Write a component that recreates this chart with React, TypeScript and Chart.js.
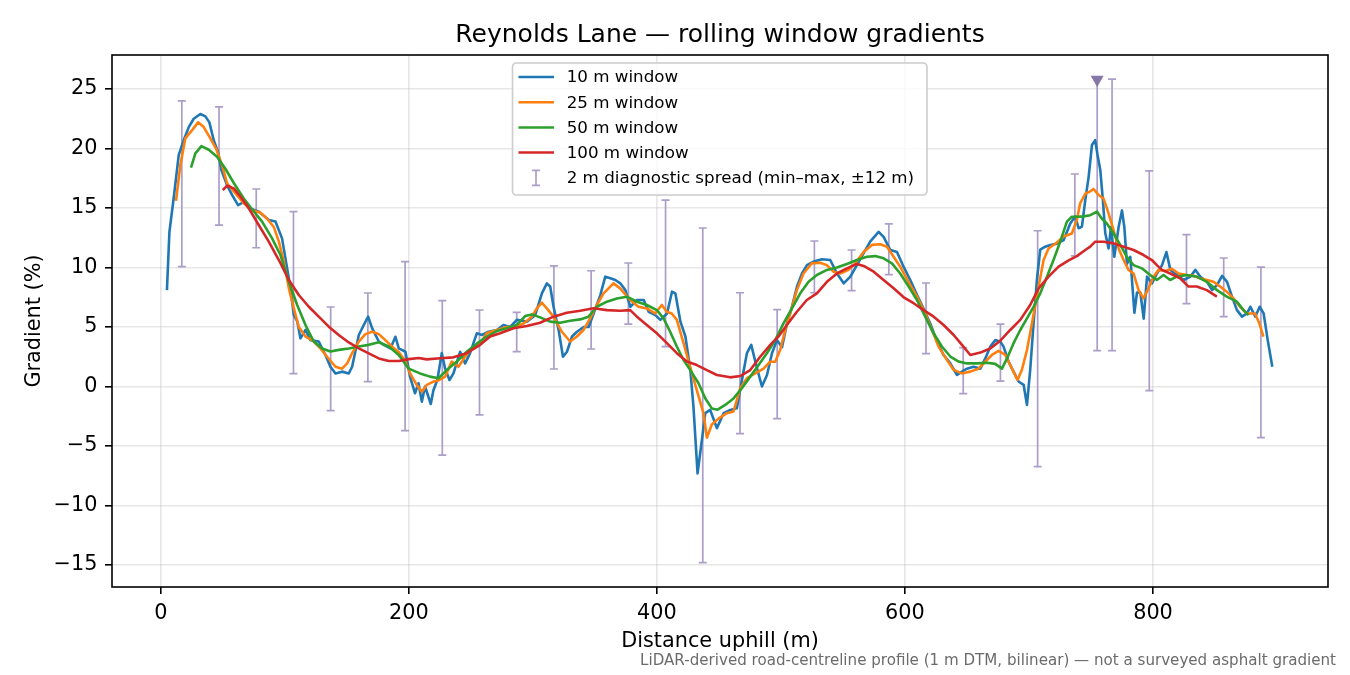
import { useEffect, useRef } from 'react'
import { Chart, registerables } from 'chart.js'

Chart.register(...registerables)

const FONT = "'DejaVu Sans', 'Liberation Sans', sans-serif"

// 10 m window (metres / %)
const blueX = [5, 7, 10.4, 14.5, 18.5, 22.6, 26.6, 31.9, 36, 39.2, 42.7, 46.2, 48.9, 53.5, 57.5, 62.3, 66.9, 72.3, 79, 87.1, 92.5, 97.8, 101.9, 104.6, 107.3, 110, 112.6, 116.7, 120.7, 127.4, 132.8, 136.8, 140.9, 146.2, 151.6, 154.3, 159.7, 163.7, 167.2, 170.4, 175.8, 179.8, 185.2, 189.2, 191.9, 197.3, 201, 205, 207.8, 210.5, 213.1, 217.7, 219.9, 223, 226.6, 229.3, 232.8, 236, 241.4, 245.4, 249.4, 254.8, 258.9, 264.3, 271, 276.3, 281.7, 287.1, 295.2, 301.9, 307.3, 311.3, 314, 316.7, 320.8, 324.3, 327.5, 331.6, 335.6, 341, 345, 349, 354.4, 358.4, 362.5, 366.5, 370.5, 374.6, 378.6, 384, 389.4, 393.4, 398.8, 402.8, 408.2, 412.2, 414.9, 419, 423, 427, 429.5, 432.8, 436.3, 439, 443, 448.4, 453.8, 459.2, 464.5, 468.6, 472.6, 476.1, 479.4, 484.7, 488.8, 492.8, 496.8, 500.9, 504.9, 508.9, 513, 517, 521, 526.4, 533.1, 539.8, 545.2, 550.6, 556, 561.3, 566.7, 572.1, 578.8, 582.8, 588.2, 593.6, 598.9, 604.3, 609.7, 615, 620.4, 625.8, 631.2, 636.6, 641.9, 646, 650, 655.4, 660.8, 664.8, 668.8, 672.9, 676.9, 679.5, 683.6, 687.6, 691.6, 695.7, 698.4, 701, 703.7, 706.4, 709.1, 713.1, 717.2, 722.5, 727.9, 733.3, 737.3, 740, 742.7, 745.4, 748.1, 750.8, 753.4, 755.3, 757.5, 759.6, 761.5, 764.2, 766.1, 768.8, 772.3, 775, 776.9, 779, 781.7, 785, 787.1, 789.8, 792.5, 795.2, 799.2, 803.2, 807.3, 810.8, 814, 819.4, 824.8, 830.1, 834.2, 838.2, 843.6, 847.6, 851.6, 855.7, 859.7, 863.7, 867.7, 871.8, 875.8, 878.5, 882.5, 886, 889.2, 892.5, 896.2]
const blueY = [8.1, 13.0, 15.8, 19.45, 20.7, 21.8, 22.5, 22.9, 22.7, 22.2, 20.7, 19.7, 18.2, 16.9, 16.1, 15.25, 15.5, 14.97, 14.7, 14.0, 13.86, 12.45, 9.93, 8.25, 6.0, 5.5, 4.05, 4.75, 3.9, 3.78, 2.65, 1.66, 1.1, 1.25, 1.1, 1.66, 4.33, 5.17, 5.87, 4.9, 3.78, 3.5, 3.2, 4.18, 3.2, 2.92, 0.82, -0.57, 0.27, -1.27, 0.0, -1.47, -0.3, 0.55, 2.8, 1.5, 0.55, 1.1, 2.92, 1.94, 2.8, 4.47, 4.33, 4.6, 4.75, 5.17, 5.0, 5.6, 5.45, 6.0, 7.83, 8.67, 8.4, 6.7, 4.75, 2.5, 2.92, 4.2, 4.6, 5.0, 5.0, 6.14, 7.68, 9.23, 9.09, 8.95, 8.67, 8.1, 6.7, 7.27, 7.27, 6.28, 6.0, 5.6, 6.14, 7.97, 7.83, 5.45, 4.2, 1.37, -1.7, -7.3, -4.5, -2.24, -1.97, -3.5, -2.24, -1.97, -1.83, 0.55, 2.8, 3.5, 2.08, 0.0, 0.97, 2.8, 3.9, 3.3, 5.3, 6.7, 8.4, 9.5, 10.2, 10.5, 10.7, 10.63, 9.5, 8.67, 9.23, 10.2, 11.2, 12.2, 13.0, 12.58, 11.47, 11.3, 10.07, 8.95, 7.7, 6.56, 5.3, 3.8, 2.65, 1.95, 0.97, 1.25, 1.5, 1.66, 1.5, 2.36, 3.35, 3.9, 3.77, 3.35, 2.08, 1.25, 0.42, 0.14, -1.55, 1.4, 5.3, 8.95, 11.5, 11.75, 11.9, 12.0, 12.3, 13.7, 14.3, 13.3, 13.44, 15.67, 17.6, 20.3, 20.7, 19.45, 18.2, 15.67, 12.9, 11.6, 13.4, 10.9, 13.4, 14.8, 13.4, 10.3, 10.9, 6.2, 7.9, 7.9, 5.7, 9.23, 8.67, 9.5, 10.2, 11.3, 9.8, 9.37, 8.95, 9.23, 9.8, 9.23, 8.8, 8.1, 8.53, 9.3, 8.8, 7.55, 6.42, 5.87, 6.14, 6.7, 5.87, 6.7, 6.14, 3.9, 1.66]

// 25 m window
const orangeX = [12.3, 15.8, 19.8, 25.3, 30.1, 34.7, 40, 44.6, 49.4, 53.5, 58.9, 66.9, 73.6, 80.4, 85.8, 91.2, 95.2, 99.2, 103.3, 107.3, 111.3, 116.7, 122.1, 128.8, 134.1, 140.9, 146.2, 150.3, 154.3, 159.7, 165, 170.4, 175.8, 181.1, 186.5, 191.9, 197.3, 201, 206.4, 210.5, 214.5, 219.9, 224.7, 229.3, 234.6, 240, 245.4, 250.7, 257.5, 262.8, 271, 279, 285.7, 292.5, 299.2, 303.2, 307.3, 311.3, 316.7, 323.4, 330.1, 335.5, 340.9, 346.2, 351.6, 357, 365, 370.4, 378.5, 385.2, 391.9, 398.6, 404, 408, 412, 416.1, 421.5, 426.8, 432.2, 437.6, 440.3, 444.3, 449.7, 456.4, 461.8, 467.2, 472.6, 479.3, 486, 491.4, 495.4, 499.4, 503.5, 507.5, 512.9, 518.2, 524.9, 531.7, 537, 542.4, 547.8, 554.5, 559.9, 566.7, 573.4, 580.1, 585.5, 590.9, 596.2, 602.9, 609.7, 616.4, 621.8, 627.1, 633.8, 639.2, 645.9, 652.6, 659.3, 664.7, 670.1, 675.5, 680.9, 686.3, 690.8, 694.3, 698.4, 702.4, 707.8, 711.8, 715.8, 722.5, 727.9, 734.6, 738.6, 741.3, 745.4, 749.4, 752.1, 756.1, 760.1, 764.2, 768.2, 772.3, 776.3, 780.3, 784.3, 788.4, 792.4, 796.4, 800.4, 804.5, 809.8, 815.2, 820.6, 827.3, 832.7, 838, 843.4, 848.8, 854.1, 859.5, 864.9, 870.2, 875.6, 882.3, 885.8, 889]
const orangeY = [15.6, 18.6, 20.85, 21.55, 22.2, 21.8, 20.85, 20.0, 18.6, 17.08, 16.4, 15.4, 14.83, 14.6, 14.1, 13.4, 12.2, 10.5, 8.25, 6.57, 5.0, 4.2, 3.9, 3.2, 2.5, 1.66, 1.5, 1.94, 2.8, 3.78, 4.4, 4.6, 4.4, 3.9, 3.35, 2.9, 2.1, 1.1, 0.13, -0.43, 0.13, 0.41, 0.55, 0.83, 2.1, 1.66, 2.5, 3.2, 3.6, 4.47, 4.75, 5.0, 5.0, 5.3, 5.87, 6.56, 7.04, 6.56, 5.87, 4.6, 3.78, 4.2, 4.75, 5.73, 6.85, 7.83, 8.67, 8.25, 7.27, 6.7, 6.56, 6.14, 6.85, 6.28, 6.14, 5.6, 3.64, 1.66, -0.3, -2.25, -4.3, -3.2, -2.7, -2.24, -2.1, -0.15, 0.7, 1.1, 1.5, 2.08, 2.08, 3.07, 4.75, 6.14, 8.1, 9.5, 10.35, 10.4, 10.2, 9.65, 9.5, 9.8, 10.35, 11.3, 11.9, 11.96, 11.75, 10.9, 10.07, 8.8, 7.55, 6.14, 4.75, 3.35, 2.24, 1.4, 1.1, 1.25, 1.5, 2.08, 2.65, 3.0, 2.65, 1.5, 0.55, 1.4, 3.07, 5.3, 8.4, 10.63, 11.6, 12.1, 12.6, 12.86, 14.0, 15.4, 16.2, 16.4, 16.6, 16.1, 15.8, 14.55, 13.15, 11.6, 10.63, 9.8, 9.5, 8.1, 7.4, 8.25, 9.23, 9.8, 9.7, 9.9, 9.5, 9.37, 9.3, 9.1, 8.95, 8.8, 8.4, 7.97, 7.4, 6.7, 6.14, 6.14, 5.3, 4.2]

// 50 m window
const greenX = [24.4, 27.9, 32.8, 38.7, 45.4, 52.1, 58.9, 66.9, 73.6, 81.7, 89.8, 96.5, 103.3, 110, 116.7, 123.4, 130.1, 136.8, 143.5, 151.6, 159.7, 167.7, 175.8, 183.9, 191.9, 200, 209, 217.1, 223.9, 230.6, 238.7, 246.7, 254.8, 262.8, 271, 279, 287.1, 293.8, 299.2, 305.9, 314, 322, 330.1, 338.2, 344.9, 351.6, 359.7, 367.7, 375.8, 383.9, 391.9, 400, 405.4, 410.7, 416.1, 421.5, 426.8, 433.6, 439, 444.3, 449, 455.1, 461.8, 468.5, 475.3, 482, 488.7, 495.4, 502.1, 508.9, 515.6, 522.3, 529, 537.1, 545.2, 553.2, 561.3, 569.4, 576.1, 582.8, 589.5, 596.2, 603, 609.7, 616.4, 623.1, 629.8, 636.6, 643.3, 650, 658.1, 666.1, 672.8, 678.2, 682.3, 687.6, 693, 698.4, 703.7, 709.1, 714.5, 719.8, 725.2, 730.6, 734.6, 738.6, 744, 749.4, 754.8, 758.8, 762.8, 768.2, 773.6, 778.9, 784.3, 791, 797.7, 803.1, 808.5, 813.8, 819.2, 827.3, 835.3, 843.4, 851.5, 859.5, 867.6, 873, 877]
const greenY = [18.4, 19.6, 20.2, 19.9, 19.3, 18.3, 17.1, 15.8, 14.9, 13.86, 12.45, 11.05, 8.8, 6.85, 5.17, 3.78, 3.2, 2.94, 3.08, 3.2, 3.36, 3.5, 3.72, 3.36, 2.65, 1.5, 1.1, 0.83, 0.69, 1.38, 2.1, 2.92, 3.6, 4.2, 4.66, 4.9, 5.17, 5.92, 6.06, 5.81, 5.45, 5.36, 5.53, 5.64, 5.87, 6.7, 7.13, 7.4, 7.55, 7.13, 6.85, 6.42, 5.73, 4.6, 3.36, 2.23, 1.4, 0.27, -0.99, -1.84, -1.95, -1.55, -1.0, -0.15, 0.83, 1.8, 2.8, 3.9, 5.3, 6.56, 7.83, 8.8, 9.37, 9.8, 10.0, 10.3, 10.63, 10.9, 10.96, 10.77, 10.35, 9.5, 8.4, 7.27, 5.87, 4.47, 3.36, 2.52, 2.1, 1.94, 1.94, 2.0, 1.9, 1.5, 2.36, 3.64, 4.75, 5.73, 6.7, 7.83, 9.23, 10.63, 12.17, 13.85, 14.27, 14.27, 14.3, 14.4, 14.7, 14.1, 13.7, 12.86, 11.9, 10.9, 10.2, 9.93, 9.37, 8.95, 9.37, 8.95, 9.23, 9.37, 9.23, 8.8, 8.1, 7.55, 7.13, 6.42, 6.0]

// 100 m window
const redX = [50, 53.5, 58.9, 64.3, 71, 79, 87.1, 95.2, 103.3, 111.3, 119.4, 127.4, 135.5, 143.5, 151.6, 159.7, 167.7, 175.8, 183.9, 191.9, 200, 208, 214.5, 225.3, 236, 246.7, 257.5, 265.6, 273.6, 284.4, 295.1, 305.9, 316.7, 327.4, 338.2, 349, 359.7, 370.4, 378.5, 383.9, 391.9, 400, 408.1, 416.1, 424.2, 432.2, 440.3, 448.4, 459.2, 467.2, 475.3, 483.3, 491.4, 498.1, 504.8, 512.9, 520.9, 529, 537.1, 545.2, 553.2, 561.3, 566.7, 574.8, 582.8, 590.9, 599, 607, 615.1, 623.2, 631.2, 639.3, 646, 652.7, 660.8, 668.8, 676.9, 684.9, 693, 701, 707.8, 715.8, 723.9, 732, 738.6, 745.4, 749.4, 753.4, 760.2, 768.2, 776.3, 784.3, 792.4, 799.1, 803.1, 807.2, 813.9, 821.9, 828.6, 835.3, 843.4, 851.5]
const redY = [16.5, 16.87, 16.65, 15.95, 14.97, 13.57, 12.17, 10.63, 8.95, 7.69, 6.7, 5.87, 5.03, 4.33, 3.7, 3.2, 2.78, 2.36, 2.14, 2.14, 2.3, 2.4, 2.28, 2.37, 2.45, 2.8, 3.5, 4.2, 4.47, 4.9, 5.08, 5.36, 5.87, 6.2, 6.37, 6.57, 6.42, 6.37, 6.42, 5.87, 5.17, 4.47, 3.64, 2.8, 2.1, 1.8, 1.38, 0.97, 0.77, 0.88, 1.38, 2.5, 3.5, 4.2, 5.17, 6.28, 7.27, 7.83, 8.8, 9.5, 9.93, 10.3, 10.13, 9.65, 8.95, 8.25, 7.5, 7.0, 6.42, 5.87, 5.17, 4.33, 3.5, 2.65, 2.85, 3.2, 3.85, 4.75, 5.6, 6.85, 8.25, 9.23, 10.07, 10.6, 10.96, 11.47, 11.75, 12.17, 12.17, 12.03, 11.75, 11.47, 11.05, 10.63, 10.2, 9.8, 9.5, 9.1, 8.4, 8.4, 8.1, 7.55]

// 2 m diagnostic spread (min / max within ±12 m)
const spreadX = [17, 47, 77, 107, 137, 167, 197, 227, 257, 287, 317, 347, 377, 407, 437, 467, 497, 527, 557, 587, 617, 647, 677, 707, 737, 755, 767, 797, 827, 857, 887]
const spreadLo = [10.07, 13.57, 11.66, 1.08, -2.03, 0.41, -3.71, -5.76, -2.39, 2.93, 1.47, 3.15, 5.25, 3.35, -14.8, -3.96, -2.7, 7.88, 8.05, 9.4, 2.76, -0.6, 0.46, -6.74, 10.97, 3.01, 3.01, -0.35, 6.96, 5.87, -4.3]
const spreadHi = [24.0, 23.5, 16.6, 14.69, 6.68, 7.86, 10.49, 7.21, 6.43, 6.23, 10.13, 9.73, 10.38, 15.67, 13.32, 7.88, 6.46, 12.23, 11.47, 13.66, 8.7, 3.26, 5.25, 13.09, 17.86, 25.8, 25.84, 18.13, 12.76, 10.8, 10.04]

// steepest 2 m reading
const peakX = [755]
const peakY = [25.8]

const xTicks = [0, 200, 400, 600, 800]
const yTicks = [-15, -10, -5, 0, 5, 10, 15, 20, 25]

const seriesNames = ['10 m window', '25 m window', '50 m window', '100 m window']
const seriesColors = ['#1f77b4', '#ff7f0e', '#2ca02c', '#d62728']
const spreadName = '2 m diagnostic spread (min\u2013max, \u00b112 m)'
const SPREAD_COLOR = '#ab9ec8'
const PEAK_COLOR = '#8677a9'
const GRID = 'rgba(176, 176, 176, 0.3)'

const toPoints = (xs: number[], ys: number[]) => xs.map((x, i) => ({ x, y: ys[i] }))

const decor = {
  id: 'decor',
  beforeDatasetsDraw(chart: any) {
    const { ctx, scales } = chart
    const xs = scales.x
    const ys = scales.y
    ctx.save()
    ctx.strokeStyle = SPREAD_COLOR
    ctx.lineWidth = 1.7
    spreadX.forEach((v, i) => {
      const px = xs.getPixelForValue(v)
      const top = ys.getPixelForValue(spreadHi[i])
      const bot = ys.getPixelForValue(spreadLo[i])
      ctx.beginPath()
      ctx.moveTo(px, top)
      ctx.lineTo(px, bot)
      ctx.moveTo(px - 4, top)
      ctx.lineTo(px + 4, top)
      ctx.moveTo(px - 4, bot)
      ctx.lineTo(px + 4, bot)
      ctx.stroke()
    })
    ctx.restore()
  },
  afterDraw(chart: any) {
    const { ctx, chartArea } = chart
    const { left, right, top, bottom } = chartArea
    ctx.save()

    // frame
    ctx.strokeStyle = '#000'
    ctx.lineWidth = 1.6
    ctx.strokeRect(left, top, right - left, bottom - top)

    // title
    ctx.fillStyle = '#000'
    ctx.textAlign = 'center'
    ctx.textBaseline = 'alphabetic'
    ctx.font = `25px ${FONT}`
    ctx.fillText('Reynolds Lane \u2014 rolling window gradients', (left + right) / 2, 42)

    // axis labels
    ctx.font = `20.8px ${FONT}`
    ctx.fillText('Distance uphill (m)', (left + right) / 2, 647)
    ctx.save()
    ctx.translate(40, (top + bottom) / 2)
    ctx.rotate(-Math.PI / 2)
    ctx.fillText('Gradient (%)', 0, 0)
    ctx.restore()

    // footnote
    ctx.font = `15.1px ${FONT}`
    ctx.fillStyle = '#6b6b6b'
    ctx.textAlign = 'right'
    ctx.fillText('LiDAR-derived road-centreline profile (1 m DTM, bilinear) \u2014 not a surveyed asphalt gradient', 1336, 665)

    // legend
    const lx = 512.5
    const ly = 63
    const lw = 414.5
    const lh = 132
    ctx.beginPath()
    ctx.roundRect(lx, ly, lw, lh, 4)
    ctx.fillStyle = 'rgba(255,255,255,0.8)'
    ctx.fill()
    ctx.strokeStyle = '#cccccc'
    ctx.lineWidth = 1.6
    ctx.stroke()

    const rows = [77, 102.2, 127.4, 152.6, 177.8]
    ctx.font = `16.7px ${FONT}`
    ctx.textAlign = 'left'
    ctx.textBaseline = 'middle'
    seriesNames.forEach((name, i) => {
      ctx.strokeStyle = seriesColors[i]
      ctx.lineWidth = 2.5
      ctx.beginPath()
      ctx.moveTo(518.5, rows[i])
      ctx.lineTo(554, rows[i])
      ctx.stroke()
      ctx.fillStyle = '#000'
      ctx.fillText(name, 566.7, rows[i] + 1)
    })
    const ey = rows[4]
    ctx.strokeStyle = SPREAD_COLOR
    ctx.lineWidth = 1.7
    ctx.beginPath()
    ctx.moveTo(536, ey - 7.5)
    ctx.lineTo(536, ey + 7.5)
    ctx.moveTo(532, ey - 7.5)
    ctx.lineTo(540, ey - 7.5)
    ctx.moveTo(532, ey + 7.5)
    ctx.lineTo(540, ey + 7.5)
    ctx.stroke()
    ctx.fillStyle = '#000'
    ctx.fillText(spreadName, 566.7, ey + 1)

    ctx.restore()
  },
}

export default function App() {
  const chartRef = useRef<HTMLCanvasElement>(null)

  useEffect(() => {
    if (!chartRef.current) return

    const lineSets = [
      toPoints(blueX, blueY),
      toPoints(orangeX, orangeY),
      toPoints(greenX, greenY),
      toPoints(redX, redY),
    ].map((data, i) => ({
      label: seriesNames[i],
      data,
      showLine: true,
      borderColor: seriesColors[i],
      backgroundColor: seriesColors[i],
      borderWidth: 2.6,
      borderJoinStyle: 'round' as const,
      pointRadius: 0,
      pointHoverRadius: 0,
      tension: 0,
      order: 4 - i,
    }))

    const chart = new Chart(chartRef.current, {
      type: 'scatter',
      data: {
        datasets: [
          ...lineSets,
          {
            label: 'peak',
            data: toPoints(peakX, peakY),
            showLine: false,
            pointStyle: 'triangle',
            rotation: 180,
            pointRadius: 7.5,
            pointHoverRadius: 7.5,
            backgroundColor: PEAK_COLOR,
            borderWidth: 0,
            order: 0,
          },
        ],
      },
      options: {
        responsive: true,
        maintainAspectRatio: false,
        animation: false,
        events: [],
        layout: { padding: { left: 0, top: 55, right: 22, bottom: 0 } },
        plugins: {
          legend: { display: false },
          title: { display: false },
          tooltip: { enabled: false },
        },
        scales: {
          x: {
            type: 'linear',
            min: -39.3,
            max: 941.1,
            afterBuildTicks: (s: any) => {
              s.ticks = xTicks.map((v) => ({ value: v }))
            },
            afterFit: (s: any) => {
              s.height = 88
            },
            border: { display: false },
            grid: { color: GRID, lineWidth: 1.6, drawTicks: true, tickLength: 7, tickColor: '#000', tickWidth: 1.6 },
            ticks: {
              color: '#000',
              font: { family: FONT, size: 20.8 },
              padding: 7,
              maxRotation: 0,
              autoSkip: false,
              callback: (v: any) => String(v),
            },
          },
          y: {
            type: 'linear',
            min: -16.85,
            max: 27.86,
            afterBuildTicks: (s: any) => {
              s.ticks = yTicks.map((v) => ({ value: v }))
            },
            afterFit: (s: any) => {
              s.width = 112
            },
            border: { display: false },
            grid: { color: GRID, lineWidth: 1.6, drawTicks: true, tickLength: 7, tickColor: '#000', tickWidth: 1.6 },
            ticks: {
              color: '#000',
              font: { family: FONT, size: 20.8 },
              padding: 7.5,
              autoSkip: false,
              callback: (v: any) => (Number(v) < 0 ? '\u2212' + Math.abs(Number(v)) : String(v)),
            },
          },
        },
      },
      plugins: [decor],
    })

    return () => {
      chart.destroy()
    }
  }, [])

  return (
    <div style={{ position: 'fixed', left: 0, top: 0, width: 1350, height: 675, background: '#fff' }}>
      <canvas ref={chartRef}></canvas>
    </div>
  )
}
